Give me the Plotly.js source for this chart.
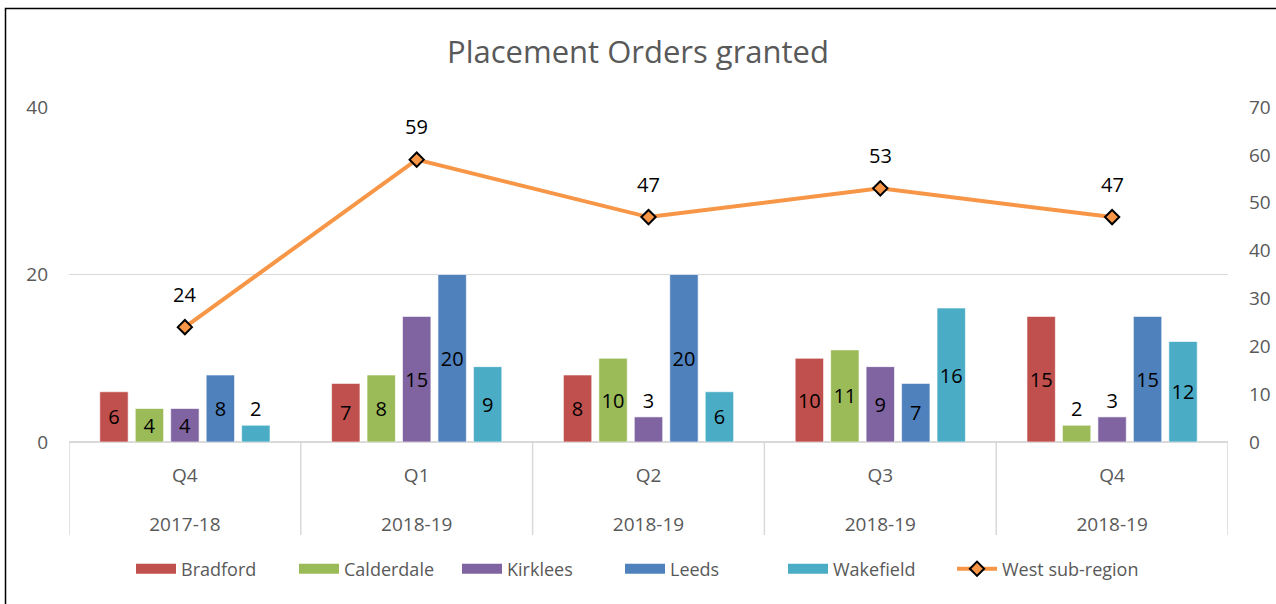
<!DOCTYPE html>
<html>
<head>
<meta charset="utf-8">
<script src="https://cdn.plot.ly/plotly-3.0.1.min.js"></script>
<style>html,body{margin:0;padding:0;background:#fff;}#chart{width:1276px;height:604px;}</style>
</head>
<body>
<div id="chart"></div>
<script>
const quarters = ["Q4", "Q1", "Q2", "Q3", "Q4"];
const years = ["2017-18", "2018-19", "2018-19", "2018-19", "2018-19"];
const bradford = [6, 7, 8, 10, 15];
const calderdale = [4, 8, 10, 11, 2];
const kirklees = [4, 15, 3, 9, 3];
const leeds = [8, 20, 20, 7, 15];
const wakefield = [2, 9, 6, 16, 12];
const westSubRegion = [24, 59, 47, 53, 47];
const leftTicks = [0, 20, 40];
const rightTicks = [0, 10, 20, 30, 40, 50, 60, 70];

const xpos = quarters.map((q, i) => i);
const tickText = quarters.map((q, i) => q + "<br><br>" + years[i]);
const FONT = "Open Sans, Noto Sans, sans-serif";

function barTrace(name, values, color) {
  return {
    type: "bar", name: name, x: xpos, y: values, showlegend: false, legendgroup: name,
    marker: {color: color, line: {color: "rgba(255,255,255,0.6)", width: 1}},
    text: values.map(String), textposition: "auto", insidetextanchor: "middle",
    constraintext: "none",
    textfont: {family: FONT, size: 20, color: "#000"},
    insidetextfont: {family: FONT, size: 20, color: "#000"},
    outsidetextfont: {family: FONT, size: 20, color: "#000"},
    cliponaxis: false, hoverinfo: "skip"
  };
}
function legendKey(name, color) {
  return {type: "scatter", mode: "lines", name: name, legendgroup: name,
    x: [null], y: [null], line: {color: color, width: 12}, hoverinfo: "skip"};
}

const names = ["Bradford", "Calderdale", "Kirklees", "Leeds", "Wakefield"];
const colors = ["#C0504D", "#9BBB59", "#8064A2", "#4F81BD", "#4BACC6"];
const series = [bradford, calderdale, kirklees, leeds, wakefield];

const data = [];
series.forEach((s, i) => data.push(barTrace(names[i], s, colors[i])));
names.forEach((n, i) => data.push(legendKey(n, colors[i])));
data.push({
  type: "scatter", mode: "lines+markers", name: "West sub-region", legend: "legend2",
  x: xpos, y: westSubRegion, yaxis: "y2",
  line: {color: "#F79646", width: 4},
  marker: {symbol: "diamond", size: 11, color: "#F79646", line: {color: "#000", width: 2}},
  cliponaxis: false, hoverinfo: "skip"
});

const annotations = westSubRegion.map((v, i) => ({
  x: xpos[i], y: v, xref: "x", yref: "y2", text: String(v), showarrow: false,
  yanchor: "middle", yshift: 33, font: {family: FONT, size: 20, color: "#000"}
}));

const sepY = (442 - 535) / 335;
const shapes = [];
for (let i = 0; i <= quarters.length; i++) {
  shapes.push({type: "line", xref: "x", yref: "paper", x0: i - 0.5, x1: i - 0.5, y0: 0, y1: sepY,
    line: {color: "#D9D9D9", width: 1.5}});
}
shapes.push({type: "rect", xref: "paper", yref: "paper",
  x0: (5.5 - 69) / 1159, x1: 1.1, y0: -0.6, y1: (442 - 8.5) / 335,
  line: {color: "#000", width: 1.5}, fillcolor: "rgba(0,0,0,0)", layer: "above"});

const legendY = -(569 - 442) / 335;
const layout = {
  width: 1276, height: 604,
  margin: {l: 69, r: 48, t: 107, b: 162},
  paper_bgcolor: "#fff", plot_bgcolor: "#fff",
  font: {family: FONT, color: "#595959"},
  title: {text: "Placement Orders granted", font: {family: FONT, size: 31, color: "#595959"},
    x: 0.5, xanchor: "center", y: 1 - 52 / 604, yanchor: "middle"},
  barmode: "group", bargap: 0.235, bargroupgap: 0.2,
  showlegend: true,
  legend: {orientation: "h", x: (131 - 69) / 1159, xanchor: "left", y: legendY, yanchor: "middle",
    font: {family: FONT, size: 18, color: "#595959"}, traceorder: "normal", itemwidth: 40,
    entrywidthmode: "pixels", entrywidth: 108},
  legend2: {orientation: "h", x: (952 - 69) / 1159, xanchor: "left", y: legendY, yanchor: "middle",
    font: {family: FONT, size: 18, color: "#595959"}, itemwidth: 40},
  xaxis: {
    range: [-0.5, 4.5], tickmode: "array", tickvals: xpos, ticktext: tickText,
    tickfont: {family: FONT, size: 19, color: "#595959"},
    showgrid: false, zeroline: false, showline: false, ticks: "", ticklabelstandoff: 20,
    fixedrange: true
  },
  yaxis: {
    range: [0, 40], tickmode: "array", tickvals: leftTicks,
    tickfont: {family: FONT, size: 19, color: "#595959"},
    showgrid: true, gridcolor: "#D9D9D9", gridwidth: 1.2,
    zeroline: true, zerolinecolor: "#D9D9D9", zerolinewidth: 1.5,
    showline: false, ticks: "", ticklabelstandoff: 20
  },
  yaxis2: {
    range: [0, 70], overlaying: "y", side: "right", tickmode: "array", tickvals: rightTicks,
    tickfont: {family: FONT, size: 19, color: "#595959"},
    showgrid: false, zeroline: false, showline: false, ticks: "", ticklabelstandoff: 20
  },
  annotations: annotations,
  shapes: shapes
};

Plotly.newPlot("chart", data, layout, {displayModeBar: false, staticPlot: true});
</script>
</body>
</html>
